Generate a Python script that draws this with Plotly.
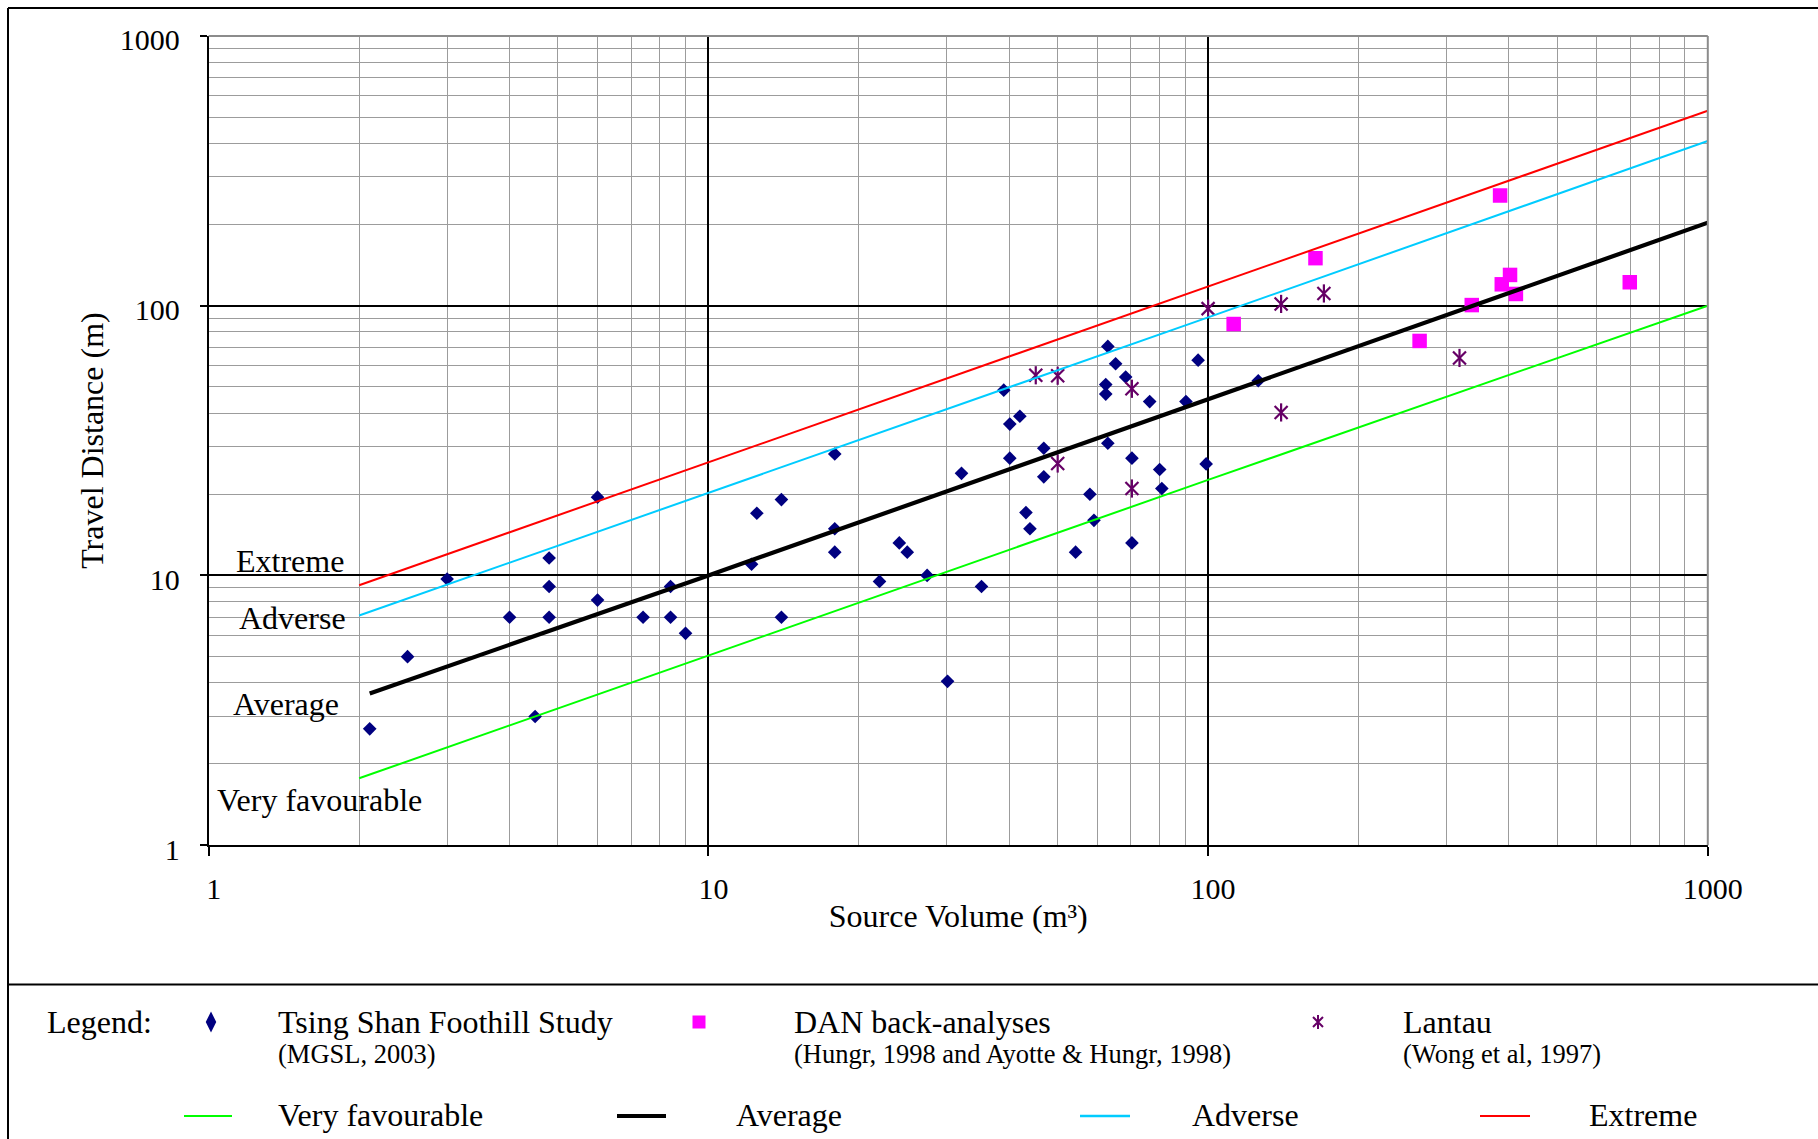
import plotly.graph_objects as go

# ---------------------------------------------------------------------------
# Data: source volume (m3) against travel distance (m)
# ---------------------------------------------------------------------------
tsing_shan_volume = [2.1, 2.5, 3.0, 4.0, 4.5, 4.8, 4.8, 4.8, 6.0, 6.0, 7.4, 8.4, 8.4, 9.0,
                     12.2, 12.5, 14.0, 14.0, 17.9, 17.9, 17.9, 22.0, 24.1, 25.0, 27.4, 30.1,
                     32.1, 35.2, 39.0, 40.1, 42.0, 40.1, 43.2, 44.0, 46.9, 46.9, 54.3, 58.0,
                     59.1, 63.0, 62.4, 62.4, 63.0, 65.3, 68.4, 70.4, 70.4, 76.4, 80.0, 80.8,
                     90.3, 95.5, 99.1, 126]
tsing_shan_distance = [2.7, 5.0, 9.7, 7.0, 3.0, 11.6, 9.1, 7.0, 19.5, 8.1, 7.0, 9.1, 7.0, 6.1,
                       11.0, 17.0, 19.1, 7.0, 28.2, 14.9, 12.2, 9.5, 13.2, 12.2, 10.0, 4.05,
                       23.9, 9.1, 48.6, 36.4, 38.9, 27.2, 17.1, 14.9, 29.6, 23.2, 12.2, 20.0,
                       16.0, 70.6, 51.0, 47.0, 30.9, 60.9, 54.4, 27.2, 13.2, 44.1, 24.7, 21.0,
                       44.1, 62.8, 25.9, 52.7]

dan_volume = [112.5, 164, 265, 337, 384, 387, 402, 413, 698]
dan_distance = [85.5, 150, 74, 100.5, 256, 120, 130, 110.5, 122]

lantau_volume = [45.2, 50.0, 70.4, 50.0, 70.4, 100, 140, 170.5, 140, 318.5]
lantau_distance = [55.2, 55.0, 49.2, 26.0, 21.0, 97.5, 101.5, 111, 40.2, 64]

# Design curves (straight on log-log axes)
very_favourable_volume = [2, 10, 100, 1000]
very_favourable_distance = [1.77, 5.05, 22.6, 100]
average_volume = [2.1, 10, 100, 1000]
average_distance = [3.65, 10, 45, 203]
adverse_volume = [2, 10, 100, 1000]
adverse_distance = [7.1, 20.2, 90.5, 408]
extreme_volume = [2, 10, 100, 1000]
extreme_distance = [9.2, 26.3, 118, 528]

major_ticks = [1, 10, 100, 1000]
major_labels = ["1", "10", "100", "1000"]
minor_ticks = [m * d for d in (1, 10, 100) for m in range(2, 10)]

# ---------------------------------------------------------------------------
# Page geometry (pixels)
# ---------------------------------------------------------------------------
W, H = 1818, 1139
PLOT_L, PLOT_R, PLOT_T, PLOT_B = 208.7, 1707.8, 35.9, 845.2
LEGEND_TOP = 984.5
FONT = "Liberation Serif"


def fx(px):
    return px / W


def fy(py):
    return 1 - py / H


NAVY = "#000080"
MAGENTA = "#FF00FF"
PURPLE = "#660066"
GREEN = "#00FF00"
CYAN = "#00CCFF"
RED = "#FF0000"

fig = go.Figure()

# --- observations ---------------------------------------------------------
fig.add_trace(go.Scatter(
    x=tsing_shan_volume, y=tsing_shan_distance, mode="markers",
    name="Tsing Shan Foothill Study",
    marker=dict(symbol="diamond", size=10.5, color=NAVY, line=dict(width=0)),
))
fig.add_trace(go.Scatter(
    x=dan_volume, y=dan_distance, mode="markers", name="DAN back-analyses",
    marker=dict(symbol="square", size=14.5, color=MAGENTA, line=dict(width=0)),
))
# Lantau star: an "x" with a vertical stroke through it
for sym in ("x-thin-open", "line-ns-open"):
    fig.add_trace(go.Scatter(
        x=lantau_volume, y=lantau_distance, mode="markers", name="Lantau",
        marker=dict(symbol=sym, size=13, color=PURPLE,
                    line=dict(width=2.2, color=PURPLE)),
    ))

# --- design curves ----------------------------------------------------------
curves = [
    ("Very favourable", very_favourable_volume, very_favourable_distance, GREEN, 2),
    ("Average", average_volume, average_distance, "black", 4.2),
    ("Adverse", adverse_volume, adverse_distance, CYAN, 2),
    ("Extreme", extreme_volume, extreme_distance, RED, 2),
]
for name, xs, ys, col, w in curves:
    fig.add_trace(go.Scatter(x=xs, y=ys, mode="lines", name=name,
                             line=dict(color=col, width=w)))

# --- legend keys (drawn on a hidden axis spanning the legend panel) ----------
legend_axes = dict(xaxis="x2", yaxis="y2", showlegend=False, hoverinfo="skip")
ROW1, ROW2 = 1022, 1115
fig.add_trace(go.Scatter(x=[211], y=[ROW1], mode="markers", **legend_axes,
                         marker=dict(symbol="diamond-tall", size=15, color=NAVY)))
fig.add_trace(go.Scatter(x=[699], y=[ROW1], mode="markers", **legend_axes,
                         marker=dict(symbol="square", size=13, color=MAGENTA)))
for sym in ("x-thin-open", "line-ns-open"):
    fig.add_trace(go.Scatter(x=[1318], y=[ROW1], mode="markers", **legend_axes,
                             marker=dict(symbol=sym, size=10, color=PURPLE,
                                         line=dict(width=2, color=PURPLE))))
legend_lines = [(184, 232, GREEN, 2), (617, 666, "black", 4),
                (1080, 1130, CYAN, 2.5), (1480, 1530, RED, 2)]
for x0, x1, col, w in legend_lines:
    fig.add_trace(go.Scatter(x=[x0, x1], y=[ROW2 + 1, ROW2 + 1], mode="lines",
                             **legend_axes, line=dict(color=col, width=w)))

# --- text --------------------------------------------------------------------
def label(text, px, py, size=32, xanchor="left"):
    fig.add_annotation(text=text, x=fx(px), y=fy(py), xref="paper", yref="paper",
                       xanchor=xanchor, yanchor="middle", showarrow=False,
                       font=dict(family=FONT, size=size, color="black"))


# curve names inside the plot
label("Extreme", 234, 561)
label("Adverse", 237, 618)
label("Average", 231, 704)
label("Very favourable", 215, 800)

# legend panel
label("Legend:", 45, ROW1)
label("Tsing Shan Foothill Study", 276, ROW1)
label("(MGSL, 2003)", 276, 1054, size=26.5)
label("DAN back-analyses", 792, ROW1)
label("(Hungr, 1998 and Ayotte &amp; Hungr, 1998)", 792, 1054, size=26.5)
label("Lantau", 1401, ROW1)
label("(Wong et al, 1997)", 1401, 1054, size=26.5)
label("Very favourable", 276, ROW2)
label("Average", 734, ROW2)
label("Adverse", 1190, ROW2)
label("Extreme", 1587, ROW2)

# --- frame, plot border and legend separator ---------------------------------
frame = dict(type="line", xref="paper", yref="paper", layer="above")
fig.add_shape(**frame, x0=fx(8), x1=1, y0=fy(8), y1=fy(8),
              line=dict(color="black", width=2))
fig.add_shape(**frame, x0=fx(8), x1=fx(8), y0=fy(8), y1=0,
              line=dict(color="black", width=2))
fig.add_shape(**frame, x0=fx(8), x1=1, y0=fy(LEGEND_TOP), y1=fy(LEGEND_TOP),
              line=dict(color="black", width=2.2))
fig.add_shape(**frame, x0=fx(PLOT_L), x1=fx(PLOT_R), y0=fy(PLOT_T), y1=fy(PLOT_T),
              line=dict(color="#8c8c8c", width=2))
fig.add_shape(**frame, x0=fx(PLOT_R), x1=fx(PLOT_R), y0=fy(PLOT_T), y1=fy(PLOT_B),
              line=dict(color="#8c8c8c", width=2))

axis_common = dict(
    type="log", range=[0, 3], tickvals=major_ticks, ticktext=major_labels,
    showgrid=True, gridcolor="black", ticks="outside", tickcolor="black",
    tickwidth=1.5, showline=True, linecolor="black", linewidth=2,
    zeroline=False, mirror=False, fixedrange=True, automargin=False,
    tickfont=dict(family=FONT, size=30, color="black"),
    minor=dict(tickvals=minor_ticks, showgrid=True, gridcolor="#9c9c9c",
               gridwidth=1, ticks=""),
)

fig.update_layout(
    width=W, height=H,
    margin=dict(l=0, r=0, t=0, b=0, pad=0, autoexpand=False),
    paper_bgcolor="white", plot_bgcolor="white",
    showlegend=False,
    font=dict(family=FONT, color="black"),
    xaxis=dict(
        **axis_common, domain=[fx(PLOT_L), fx(PLOT_R)], anchor="y",
        gridwidth=1.5, ticklen=9, ticklabelstandoff=7, ticklabelshift=5,
        title=dict(text="Source Volume (m³)", standoff=0,
                   font=dict(family=FONT, size=32, color="black")),
    ),
    yaxis=dict(
        **axis_common, domain=[fy(PLOT_B), fy(PLOT_T)], anchor="x",
        gridwidth=2, ticklen=7, ticklabelstandoff=14, ticklabelshift=4,
        title=dict(text="Travel Distance (m)", standoff=6,
                   font=dict(family=FONT, size=32, color="black")),
    ),
    xaxis2=dict(domain=[0, 1], range=[0, W], visible=False, fixedrange=True,
                anchor="y2"),
    yaxis2=dict(domain=[0, fy(LEGEND_TOP)], range=[H, LEGEND_TOP], visible=False,
                fixedrange=True, anchor="x2"),
)

fig.write_html("out.html")
